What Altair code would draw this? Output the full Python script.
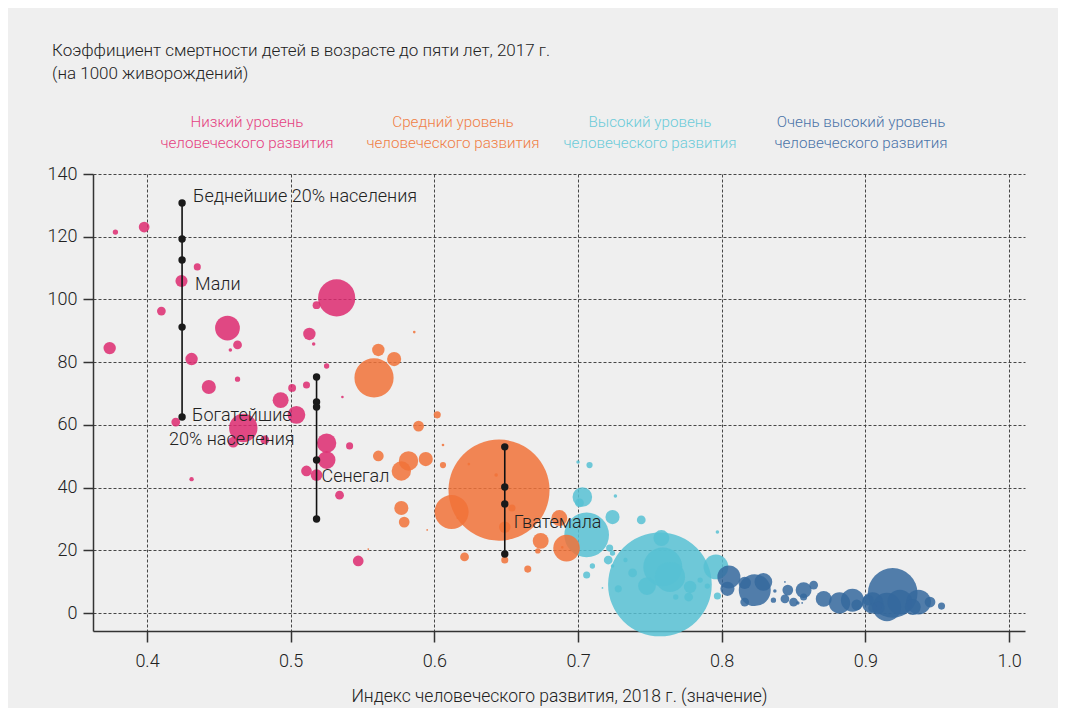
import altair as alt
import pandas as pd

FONT = "Roboto, Open Sans, sans-serif"
FW = 300

categories = ["Низкий", "Средний", "Высокий", "Очень высокий"]
cat_colors = ["#dd2a70", "#f17238", "#57c1d3", "#35699e"]
label_colors = ["#e5417f", "#f07e45", "#6ccbd9", "#4a73a8"]
cat_line1 = ["Низкий уровень", "Средний уровень", "Высокий уровень", "Очень высокий уровень"]
cat_line2 = ["человеческого развития"] * 4

# Low human development
low_hdi = [0.378, 0.398, 0.435, 0.424, 0.410, 0.374, 0.456, 0.463, 0.458, 0.431,
           0.443, 0.463, 0.420, 0.467, 0.460, 0.482, 0.431, 0.493, 0.504, 0.501,
           0.511, 0.532, 0.518, 0.513, 0.516, 0.525, 0.536, 0.525, 0.541, 0.525,
           0.511, 0.518, 0.534, 0.547]
low_u5 = [121.5, 123.1, 110.4, 105.9, 96.3, 84.5, 90.9, 85.5, 83.9, 81.0,
          72.1, 74.6, 60.9, 59.0, 54.5, 55.2, 42.7, 67.9, 63.2, 71.8,
          72.7, 100.5, 98.2, 89.0, 85.8, 78.8, 68.9, 54.2, 53.3, 48.8,
          45.3, 44.0, 37.6, 16.6]
low_pop = [3.7, 15, 6.5, 19, 10, 20, 80, 10, 1.6, 20,
           26, 3.7, 10, 105, 15, 10, 2.5, 33, 41, 8,
           6.5, 180, 8, 20, 1.6, 3.7, 0.9, 49, 6.5, 41,
           15, 18, 10, 15]

# Medium human development
med_hdi = [0.586, 0.561, 0.572, 0.558, 0.602, 0.589, 0.606, 0.561, 0.582, 0.594,
           0.577, 0.606, 0.624, 0.643, 0.645, 0.612, 0.577, 0.579, 0.654, 0.649,
           0.687, 0.674, 0.692, 0.672, 0.621, 0.649, 0.665, 0.595, 0.554, 0.616,
           0.689]
med_u5 = [89.6, 83.9, 81.0, 75.0, 63.2, 59.6, 53.6, 50.1, 48.5, 49.1,
          45.3, 47.2, 47.5, 44.0, 39.2, 32.2, 33.5, 29.0, 33.5, 27.4,
          30.3, 23.0, 20.7, 19.8, 17.9, 16.9, 14.0, 26.5, 20.4, 30.3,
          21.0]
med_pop = [0.9, 20, 26, 200, 6.5, 15, 0.9, 15, 49, 26,
           49, 5, 0.9, 1.6, 1330, 150, 26, 15, 6.5, 17,
           33, 33, 92, 3.7, 10, 6.5, 6.5, 0.4, 0.4, 0.4,
           0.8]

# High human development
high_hdi = [0.700, 0.708, 0.703, 0.701, 0.726, 0.724, 0.744, 0.706, 0.722, 0.721,
            0.710, 0.706, 0.724, 0.733, 0.757, 0.758, 0.759, 0.764, 0.738, 0.748,
            0.728, 0.778, 0.777, 0.785, 0.796, 0.790, 0.797, 0.797, 0.768, 0.724,
            0.717]
high_u5 = [48.2, 47.2, 37.0, 35.1, 37.3, 30.6, 29.7, 24.9, 20.7, 16.9,
           15.0, 12.1, 15.0, 16.9, 9.1, 23.9, 14.7, 11.5, 12.8, 8.6,
           7.7, 8.3, 5.1, 10.5, 14.7, 8.6, 25.8, 5.4, 5.1, 19.1,
           8.0]
high_pop = [1.6, 5, 50, 10, 1.6, 26, 10, 260, 6.5, 10,
            3.7, 6.5, 1.6, 2.5, 1400, 33, 198, 118, 10, 41,
            6.5, 20, 10, 3.7, 80, 3.7, 1.6, 6.5, 3.7, 3.7,
            0.4]

# Very high human development
vhigh_hdi = [0.805, 0.804, 0.823, 0.829, 0.816, 0.816, 0.836, 0.837, 0.844, 0.846,
             0.844, 0.850, 0.857, 0.857, 0.864, 0.853, 0.871, 0.882, 0.891, 0.894,
             0.905, 0.905, 0.919, 0.915, 0.924, 0.909, 0.937, 0.945, 0.953, 0.933,
             0.902, 0.856]
vhigh_u5 = [11.5, 7.7, 7.3, 9.9, 9.6, 3.5, 4.1, 7.0, 9.9, 7.3,
            4.5, 3.5, 7.3, 5.1, 8.9, 3.2, 4.5, 3.2, 4.1, 2.6,
            3.2, 1.6, 6.4, 1.9, 3.5, 1.6, 3.5, 3.5, 2.2, 1.9,
            4.1, 3.2]
vhigh_pop = [69, 26, 133, 41, 20, 10, 3.7, 1.6, 0.4, 15,
             10, 10, 33, 6.5, 10, 1.6, 33, 59, 69, 15,
             59, 10, 321, 105, 80, 20, 80, 15, 6.5, 33,
             15, 0.4]

# Wealth quintiles (U5MR) for three countries
q_countries = ["Мали", "Сенегал", "Гватемала"]
q_hdi = [0.4244, 0.518, 0.649]
q_values = [[130.8, 119.3, 112.6, 91.2, 62.5],
            [75.3, 67.3, 65.7, 48.8, 30.0],
            [53.0, 40.2, 34.8, 18.8]]

x_ticks = [0.4, 0.5, 0.6, 0.7, 0.8, 0.9, 1.0]
y_ticks = [0, 20, 40, 60, 80, 100, 120, 140]

title_lines = ["Коэффициент смертности детей в возрасте до пяти лет, 2017 г.",
               "(на 1000 живорождений)"]
x_title = "Индекс человеческого развития, 2018 г. (значение)"

# ---- build tables ----
rows = []
for cat, hs, us, ps in zip(categories,
                           [low_hdi, med_hdi, high_hdi, vhigh_hdi],
                           [low_u5, med_u5, high_u5, vhigh_u5],
                           [low_pop, med_pop, high_pop, vhigh_pop]):
    for h, u, p in zip(hs, us, ps):
        rows.append({"cat": cat, "hdi": h, "u5": u, "pop": p})
bubbles = pd.DataFrame(rows).sort_values("pop", ascending=False).reset_index(drop=True)
bubbles["rank"] = range(len(bubbles))

qrows, rrows = [], []
for c, h, vals in zip(q_countries, q_hdi, q_values):
    for v in vals:
        qrows.append({"country": c, "hdi": h, "u5": v})
    rrows.append({"country": c, "hdi": h, "lo": min(vals), "hi": max(vals)})
qdf = pd.DataFrame(qrows)
rdf = pd.DataFrame(rrows)

W, H = 932, 457
x_scale = alt.Scale(domain=[0.3624, 1.0111], nice=False, zero=False)
y_scale = alt.Scale(domain=[-5.74, 140.03], nice=False, zero=False)

x_axis = alt.Axis(values=x_ticks, format=".1f", title=x_title, tickSize=11,
                  labelPadding=10, titlePadding=17, grid=True)
y_axis = alt.Axis(values=y_ticks, title=None, tickSize=10, labelPadding=6, grid=True)

base_bubbles = alt.Chart(bubbles).mark_circle(opacity=0.85).encode(
    x=alt.X("hdi:Q", scale=x_scale, axis=x_axis),
    y=alt.Y("u5:Q", scale=y_scale, axis=y_axis),
    size=alt.Size("pop:Q", scale=alt.Scale(domain=[0, 1400], range=[0, 10750]), legend=None),
    color=alt.Color("cat:N", scale=alt.Scale(domain=categories, range=cat_colors), legend=None),
    order=alt.Order("rank:Q"),
)

rules = alt.Chart(rdf).mark_rule(color="#111", strokeWidth=1.6).encode(
    x=alt.X("hdi:Q", scale=x_scale),
    y=alt.Y("lo:Q", scale=y_scale),
    y2="hi:Q",
)

dots = alt.Chart(qdf).mark_circle(color="#1a1a1a", opacity=1, size=55).encode(
    x=alt.X("hdi:Q", scale=x_scale),
    y=alt.Y("u5:Q", scale=y_scale),
)

layers = [base_bubbles, rules, dots]

# annotations in data space
ann_text = ["Беднейшие 20% населения", "Мали", "Богатейшие", "20% населения", "Сенегал", "Гватемала"]
ann_hdi = [0.4244, 0.4244, 0.4244, 0.4244, 0.518, 0.649]
ann_u5 = [130.8, 105.9, 62.5, 62.5, 44.0, 27.4]
ann_dx = [11, 13, 10, -13, 5, 9]
ann_dy = [-6, 4, -1, 23, 2, -4]
for t, h, u, dx, dy in zip(ann_text, ann_hdi, ann_u5, ann_dx, ann_dy):
    layers.append(
        alt.Chart(pd.DataFrame({"t": [t], "hdi": [h], "u5": [u]})).mark_text(
            align="left", baseline="middle", dx=dx, dy=dy, fontSize=18,
            font=FONT, fontWeight=FW, color="#222"
        ).encode(x=alt.X("hdi:Q", scale=x_scale), y=alt.Y("u5:Q", scale=y_scale), text="t:N")
    )

# header title lines
for line, yy in zip(title_lines, [-123, -100]):
    layers.append(
        alt.Chart(pd.DataFrame({"t": [line]})).mark_text(
            align="left", baseline="middle", fontSize=17, font=FONT, fontWeight=FW, color="#222"
        ).encode(x=alt.value(-41), y=alt.value(yy), text="t:N")
    )

# category labels
cat_x = [154, 360, 557, 768]
for l1, l2, col, xx in zip(cat_line1, cat_line2, label_colors, cat_x):
    for line, yy in zip([l1, l2], [-52, -31]):
        layers.append(
            alt.Chart(pd.DataFrame({"t": [line]})).mark_text(
                align="center", baseline="middle", fontSize=15.2, font=FONT, fontWeight=FW, color=col
            ).encode(x=alt.value(xx), y=alt.value(yy), text="t:N")
        )

chart = alt.layer(*layers).properties(
    width=W, height=H,
    background="#efefef",
    autosize=alt.AutoSizeParams(type="none"),
    padding={"left": 85, "top": 166, "right": 33, "bottom": 77},
).configure_view(stroke=None).configure_axis(
    labelFont=FONT, titleFont=FONT, labelFontSize=18, titleFontSize=17.5,
    labelFontWeight=FW, titleFontWeight=FW, labelColor="#222", titleColor="#222",
    domainColor="#333", domainWidth=1.5, tickColor="#333", tickWidth=1.5,
    gridColor="#333", gridDash=[3, 2], gridWidth=1, gridOpacity=0.9,
)

chart.save("out.html", embed_options={"renderer": "svg", "actions": False})
